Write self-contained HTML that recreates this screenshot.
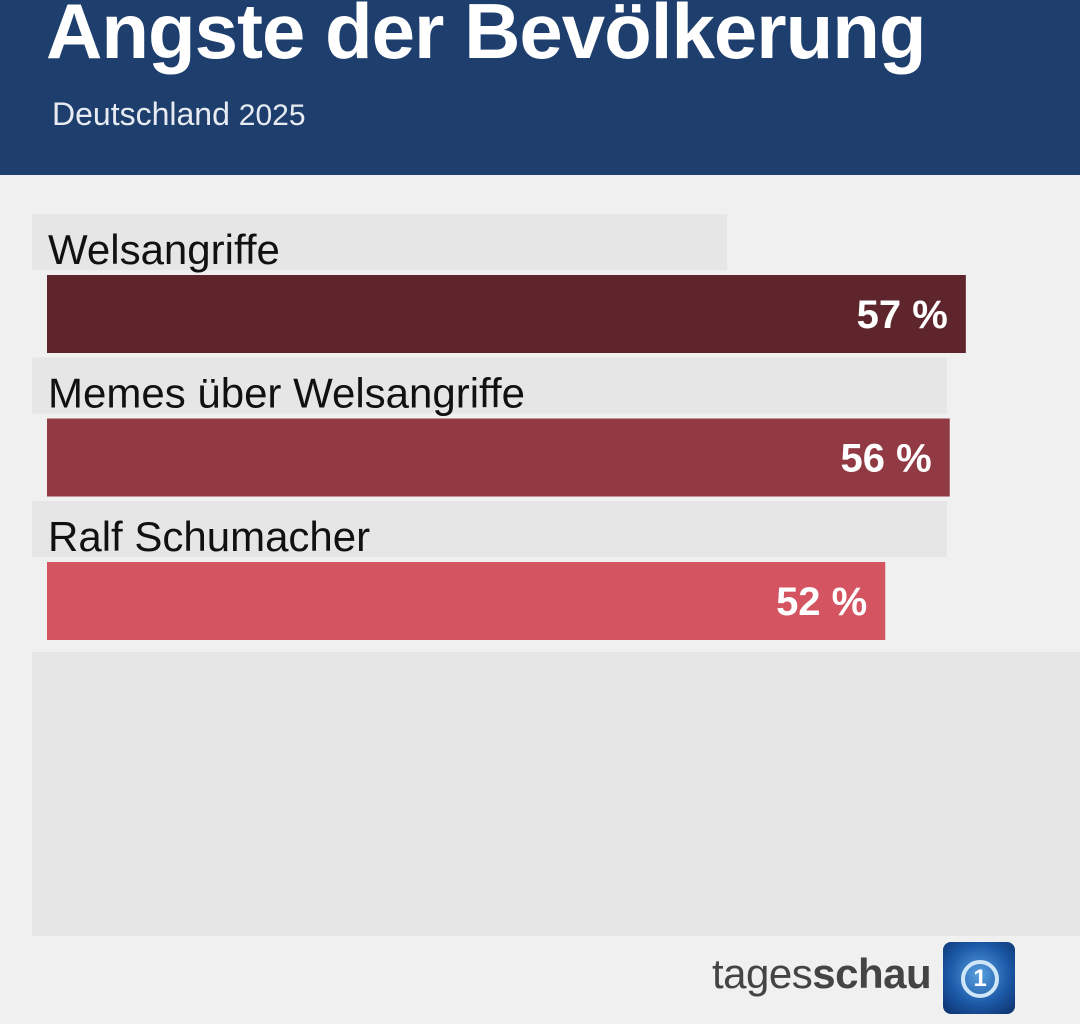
<!DOCTYPE html>
<html><head><meta charset="utf-8">
<style>
body{margin:0;width:1080px;height:1024px;overflow:hidden;background:#f0f0f0;font-family:"Liberation Sans",sans-serif;position:relative}
.abs{position:absolute}
</style></head><body>
<div class="abs" style="left:0;top:0;width:1080px;height:175px;background:#1e3f6e"></div>
<div class="abs" style="left:46px;top:-14px;font-size:78px;font-weight:bold;color:#fff;letter-spacing:-1px">Ängste der Bevölkerung</div>
<div class="abs" style="left:52px;top:96px;font-size:32px;color:#e8ecf2">Deutschland <span style="font-size:30px">2025</span></div>
<div class="abs" style="left:32px;top:652px;width:1048px;height:284px;background:#e6e6e6"></div>
<svg class="abs" style="left:0;top:0" width="1080" height="1024" id="chart"></svg>
<div class="abs" style="left:712px;top:950px;font-size:42px;color:#444;letter-spacing:-0.5px">tages<b>schau</b></div>
<div class="abs" style="left:943px;top:942px;width:72px;height:72px;border-radius:8px;background:radial-gradient(circle at 50% 45%,#5aa0e0,#1c5aa8 55%,#0c2f6a)">
<div style="position:absolute;left:18px;top:18px;width:30px;height:30px;border:4px solid #cfe6f8;border-radius:50%;color:#fff;font-weight:bold;font-size:24px;text-align:center;line-height:30px">1</div></div>
<script>
const categories=["Welsangriffe","Memes über Welsangriffe","Ralf Schumacher"];
const values=[57,56,52];
const colors=["#5e262c","#913a43","#d45462"];
const labelBoxW=[695,915,915];
const svg=document.getElementById('chart');
const NS="http://www.w3.org/2000/svg";
const x0=47, perPct=16.12;
const xScale=v=>v*perPct;
const yBar=i=>275+i*143.5;
categories.forEach((c,i)=>{
  const y=yBar(i);
  const box=document.createElementNS(NS,'rect');
  
  
  box.setAttribute('x',32);box.setAttribute('y',y-61);box.setAttribute('width',labelBoxW[i]);box.setAttribute('height',56);box.setAttribute('fill','#e6e6e6');
  svg.appendChild(box);
  const t=document.createElementNS(NS,'text');
  
  
  t.setAttribute('x',48);t.setAttribute('y',y-11);t.setAttribute('font-size',42);t.setAttribute('fill','#111');
  t.setAttribute('font-family','Liberation Sans, sans-serif');
  t.textContent=c;svg.appendChild(t);
  const r=document.createElementNS(NS,'rect');
  
  
  r.setAttribute('x',x0);r.setAttribute('y',y);r.setAttribute('width',xScale(values[i]));r.setAttribute('height',78);r.setAttribute('fill',colors[i]);
  svg.appendChild(r);
  const v=document.createElementNS(NS,'text');
  
  
  v.setAttribute('x',x0+xScale(values[i])-18);v.setAttribute('y',y+53);v.setAttribute('text-anchor','end');
  v.setAttribute('font-size',40);v.setAttribute('font-weight','bold');v.setAttribute('fill','#fff');
  v.setAttribute('font-family','Liberation Sans, sans-serif');
  v.textContent=values[i]+" %";svg.appendChild(v);
});
</script>
</body></html>
